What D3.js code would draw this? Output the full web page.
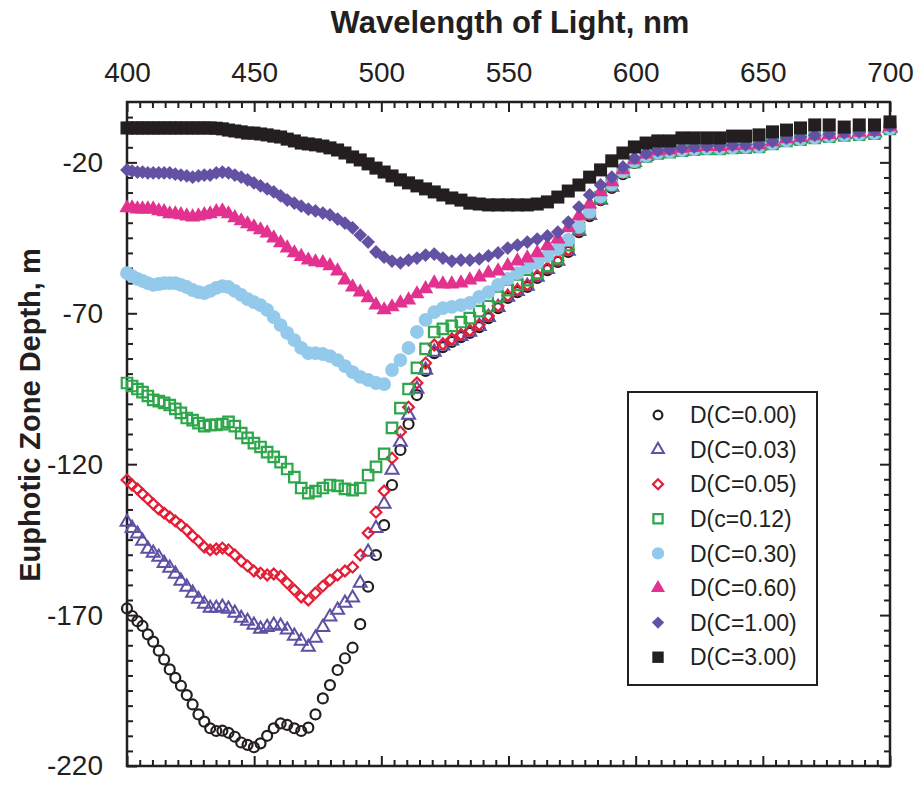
<!DOCTYPE html>
<html><head><meta charset="utf-8">
<script src="https://cdn.jsdelivr.net/npm/d3@7"></script>
<style>
body{margin:0;background:#fff}
svg{display:block}
text{font-family:"Liberation Sans",Arial,Helvetica,sans-serif;fill:#231f20}
</style>
</head><body>
<svg id="chart" width="920" height="785"></svg>
<script>
// ---------------- DATA ----------------
const wavelength = [
400.0,402.0,404.1,406.1,408.2,410.3,412.5,414.6,416.8,419.0,
421.2,423.5,425.8,428.1,430.4,432.7,435.1,437.5,439.9,442.4,
444.9,447.4,449.9,452.5,455.1,457.7,460.4,463.0,465.8,468.5,
471.3,474.1,477.0,479.8,482.8,485.7,488.7,491.7,494.8,497.9,
501.1,504.2,507.5,510.7,514.0,517.4,520.8,524.2,527.7,531.3,
534.8,538.5,542.1,545.9,549.7,553.5,557.4,561.3,565.3,569.4,
573.5,577.7,581.9,586.2,590.6,595.0,599.5,604.1,608.7,613.4,
618.2,623.0,628.0,633.0,638.1,643.2,648.5,653.8,659.3,664.8,
670.4,676.1,682.0,687.9,693.9,700.0];

const depthC000 = [
-167.8,-170.3,-172.0,-173.6,-176.4,-178.8,-181.8,-184.7,-188.0,-190.8,
-193.4,-196.5,-199.6,-202.9,-205.3,-207.5,-208.4,-208.3,-209.0,-210.3,
-212.2,-213.0,-213.8,-212.5,-210.0,-207.5,-205.9,-206.4,-207.5,-208.4,
-207.3,-202.9,-197.6,-193.2,-188.2,-184.3,-180.8,-173.0,-160.6,-150.1,
-140.2,-126.9,-115.3,-106.7,-97.1,-89.1,-83.2,-81.2,-79.5,-77.9,
-76.5,-74.6,-71.6,-68.3,-64.9,-63.0,-61.3,-58.3,-55.7,-53.0,
-49.7,-43.1,-37.8,-32.5,-28.5,-23.9,-20.2,-18.2,-16.9,-16.2,
-15.9,-15.6,-15.4,-15.4,-15.1,-15.0,-14.8,-13.8,-12.8,-12.4,
-11.8,-11.4,-11.0,-10.7,-10.4,-8.8];

const depthC003 = [
-139.2,-141.2,-143.1,-145.5,-148.1,-149.4,-150.8,-152.8,-154.4,-156.4,
-158.7,-160.7,-162.7,-164.7,-166.3,-167.7,-167.7,-167.3,-168.0,-169.3,
-171.0,-172.0,-173.3,-174.6,-174.0,-173.3,-173.6,-174.9,-176.9,-178.6,
-180.6,-177.6,-174.0,-170.6,-168.3,-166.0,-164.3,-159.4,-149.1,-141.2,
-133.2,-121.9,-112.7,-103.7,-95.1,-88.8,-82.8,-80.8,-79.1,-77.6,
-76.2,-74.3,-71.3,-68.0,-64.6,-62.7,-61.0,-58.0,-55.4,-52.7,
-49.4,-42.8,-37.5,-32.5,-28.2,-23.6,-20.0,-18.0,-16.8,-16.4,
-15.8,-15.5,-15.2,-15.2,-14.9,-14.8,-14.6,-13.6,-12.6,-12.2,
-11.6,-11.2,-10.8,-10.5,-10.2,-8.6];

const depthC005 = [
-125.2,-126.9,-128.2,-129.9,-131.5,-133.2,-134.9,-136.2,-137.5,-138.8,
-140.2,-141.8,-143.8,-145.5,-147.5,-148.4,-148.1,-147.8,-148.4,-150.1,
-152.1,-153.7,-155.4,-156.1,-156.7,-156.4,-157.1,-159.4,-161.7,-164.0,
-165.0,-162.7,-160.4,-158.4,-156.7,-155.4,-154.1,-150.1,-142.8,-135.9,
-128.9,-118.0,-109.3,-101.1,-93.1,-86.5,-80.5,-80.2,-78.6,-77.1,
-75.7,-73.8,-70.8,-67.6,-64.2,-62.3,-60.6,-57.6,-55.0,-52.4,
-49.0,-42.5,-37.2,-32.2,-28.0,-23.4,-19.9,-17.9,-16.7,-16.3,
-15.8,-15.4,-15.2,-15.2,-14.8,-14.7,-14.5,-13.5,-12.5,-12.1,
-11.5,-11.1,-10.7,-10.4,-10.1,-8.5];

const depthC012 = [
-93.1,-94.1,-95.1,-96.1,-97.4,-98.7,-99.1,-99.7,-100.4,-101.7,
-103.0,-104.7,-105.4,-106.4,-107.4,-107.0,-107.0,-106.7,-106.0,-107.4,
-109.7,-111.3,-113.0,-114.3,-116.0,-117.6,-119.3,-121.6,-124.3,-127.9,
-129.6,-128.9,-127.9,-126.9,-127.2,-128.2,-128.6,-127.9,-123.6,-120.9,
-116.6,-108.0,-101.4,-95.1,-88.1,-81.8,-76.2,-75.2,-74.2,-72.9,
-71.6,-69.3,-67.6,-64.6,-62.3,-60.6,-59.0,-56.7,-54.3,-51.7,
-47.4,-41.7,-36.4,-31.5,-27.5,-23.2,-19.9,-18.0,-17.0,-16.6,
-16.1,-15.8,-15.5,-15.5,-15.2,-15.1,-14.9,-13.9,-12.9,-12.5,
-11.9,-11.5,-11.1,-10.8,-10.5,-8.9];

const depthC030 = [
-56.7,-57.7,-58.6,-59.3,-60.0,-60.6,-60.3,-60.0,-60.0,-60.0,
-60.6,-61.3,-62.3,-63.0,-63.3,-62.6,-61.6,-61.0,-61.3,-62.6,
-63.9,-65.3,-66.3,-67.3,-68.9,-71.3,-73.9,-76.5,-78.9,-81.5,
-83.2,-83.2,-83.5,-84.2,-85.5,-87.5,-89.5,-91.1,-92.1,-93.1,
-93.5,-88.8,-85.5,-81.5,-76.2,-72.2,-69.6,-68.3,-67.9,-67.3,
-66.6,-64.6,-63.0,-60.6,-58.6,-56.7,-54.7,-53.3,-51.0,-48.7,
-45.7,-41.4,-36.4,-31.3,-27.3,-23.0,-19.6,-17.8,-16.8,-16.4,
-15.9,-15.6,-15.3,-15.3,-15.0,-14.9,-14.7,-13.7,-12.7,-12.3,
-11.7,-11.3,-10.9,-10.6,-10.3,-8.7];

const depthC060 = [
-35.1,-35.1,-35.5,-35.5,-35.5,-35.5,-36.1,-36.4,-37.1,-37.1,
-37.4,-37.8,-38.1,-37.8,-37.4,-37.1,-36.4,-36.1,-37.1,-38.4,
-39.4,-40.4,-41.4,-42.4,-43.4,-45.1,-46.7,-48.4,-50.0,-51.2,
-52.4,-53.0,-53.3,-54.3,-56.0,-59.0,-61.3,-63.0,-64.9,-67.3,
-68.9,-67.9,-66.6,-65.6,-63.6,-61.9,-60.0,-60.3,-60.3,-60.0,
-59.0,-58.0,-56.7,-56.0,-54.3,-52.7,-51.7,-50.0,-47.7,-45.4,
-41.7,-37.8,-33.8,-29.8,-26.5,-22.5,-19.2,-17.3,-16.3,-15.9,
-15.4,-15.1,-14.8,-14.8,-14.5,-14.4,-14.2,-13.2,-12.2,-11.8,
-11.2,-10.8,-10.4,-10.1,-9.8,-8.2];

const depthC100 = [
-22.5,-22.9,-23.2,-23.2,-23.5,-23.5,-23.5,-23.5,-23.5,-23.9,
-24.2,-24.5,-24.9,-24.5,-24.2,-24.2,-23.5,-23.2,-23.5,-24.2,
-24.9,-25.8,-26.8,-27.8,-28.8,-29.8,-31.1,-32.5,-33.5,-34.5,
-35.5,-36.1,-36.8,-37.4,-38.8,-40.1,-41.7,-44.1,-46.4,-49.7,
-51.4,-52.7,-53.3,-52.4,-51.7,-50.7,-50.4,-51.7,-52.7,-52.4,
-52.4,-52.0,-51.0,-50.0,-48.4,-47.4,-46.4,-45.4,-44.4,-43.1,
-39.8,-34.8,-30.8,-27.5,-24.9,-21.5,-18.6,-17.0,-16.1,-15.7,
-15.2,-14.9,-14.6,-14.6,-14.3,-14.2,-14.0,-13.0,-12.0,-11.6,
-11.0,-10.6,-10.2,-9.9,-9.6,-8.0];

const depthC300 = [
-8.6,-8.6,-8.6,-8.6,-8.6,-8.6,-8.6,-8.6,-8.6,-8.6,
-8.6,-8.6,-8.6,-8.6,-8.6,-8.6,-8.7,-8.9,-9.3,-9.6,
-9.9,-10.3,-10.3,-10.6,-10.9,-11.3,-11.6,-12.3,-12.9,-13.6,
-13.9,-14.2,-14.6,-15.2,-15.9,-16.9,-18.2,-19.2,-20.5,-21.9,
-23.2,-24.5,-25.8,-26.8,-27.8,-28.8,-29.8,-30.8,-31.8,-32.5,
-33.5,-33.8,-34.1,-34.1,-34.1,-34.1,-34.1,-33.8,-33.1,-31.5,
-29.5,-27.5,-24.9,-22.5,-19.5,-16.9,-14.9,-13.6,-12.9,-12.9,
-11.9,-11.9,-11.9,-11.9,-11.3,-11.3,-10.9,-9.9,-9.3,-8.6,
-7.6,-7.6,-8.3,-7.6,-7.6,-6.6];

const seriesLabels = ["D(C=0.00)","D(C=0.03)","D(C=0.05)","D(c=0.12)","D(C=0.30)","D(C=0.60)","D(C=1.00)","D(C=3.00)"];
const seriesValues = [depthC000, depthC003, depthC005, depthC012, depthC030, depthC060, depthC100, depthC300];
const xTickValues = [400,450,500,550,600,650,700];
const yTickValues = [-20,-70,-120,-170,-220];
const xTitle = "Wavelength of Light, nm";
const yTitle = "Euphotic Zone Depth, m";

// ---------------- STYLES ----------------
const styles = [
  {shape:"circle",   fill:"none",    stroke:"#231f20", size:78,  sw:2.2},
  {shape:"triangle", fill:"none",    stroke:"#5f50a3", size:72,  sw:2},
  {shape:"diamond",  fill:"none",    stroke:"#e41e35", size:58,  sw:2.2},
  {shape:"square",   fill:"none",    stroke:"#2ea64b", size:110, sw:2.2},
  {shape:"circle",   fill:"#93c9ea", stroke:"none",    size:150, sw:0},
  {shape:"triangle", fill:"#e2318f", stroke:"none",    size:100, sw:0},
  {shape:"diamond",  fill:"#6352a4", stroke:"none",    size:95,  sw:0},
  {shape:"square",   fill:"#231f20", stroke:"none",    size:170, sw:0}
];
const legendSizes = [60, 60, 50, 85, 120, 85, 75, 130];
const symType = {circle:d3.symbolCircle, triangle:d3.symbolTriangle, diamond:d3.symbolSquare, square:d3.symbolSquare};

// ---------------- CHART ----------------
const svg = d3.select("#chart");
const L = 127, R = 890, T = 102, B = 766;
const x = d3.scaleLinear().domain([400,700]).range([L,R]);
const y = d3.scaleLinear().domain([0,-220]).range([T,B]);

function styleAxis(g){
  g.select(".domain").remove();
  g.selectAll(".tick line").attr("stroke","#231f20").attr("stroke-width",2);
}
const minorX = d3.range(400,701,5).filter(v=>!xTickValues.includes(v));
const minorY = d3.range(0,-221,-5).filter(v=>!yTickValues.includes(v) && v!==0);

// top axis (labels)
svg.append("g").attr("transform",`translate(0,${T})`)
  .call(d3.axisTop(x).tickValues(xTickValues).tickSize(-10).tickPadding(20))
  .call(styleAxis)
  .call(g=>g.selectAll("text").attr("font-size",28).attr("fill","#231f20"));
svg.append("g").attr("transform",`translate(0,${T})`)
  .call(d3.axisTop(x).tickValues(minorX).tickSize(-6).tickFormat(""))
  .call(styleAxis);
// bottom axis
svg.append("g").attr("transform",`translate(0,${B})`)
  .call(d3.axisBottom(x).tickValues(xTickValues).tickSize(-10).tickFormat(""))
  .call(styleAxis);
svg.append("g").attr("transform",`translate(0,${B})`)
  .call(d3.axisBottom(x).tickValues(minorX).tickSize(-6).tickFormat(""))
  .call(styleAxis);
// left axis (labels)
svg.append("g").attr("transform",`translate(${L},0)`)
  .call(d3.axisLeft(y).tickValues(yTickValues).tickSize(-10).tickPadding(24).tickFormat(d=>String(d)))
  .call(styleAxis)
  .call(g=>g.selectAll("text").attr("font-size",28).attr("fill","#231f20"));
svg.append("g").attr("transform",`translate(${L},0)`)
  .call(d3.axisLeft(y).tickValues(minorY).tickSize(-6).tickFormat(""))
  .call(styleAxis);
// right axis
svg.append("g").attr("transform",`translate(${R},0)`)
  .call(d3.axisRight(y).tickValues(yTickValues).tickSize(-10).tickFormat(""))
  .call(styleAxis);
svg.append("g").attr("transform",`translate(${R},0)`)
  .call(d3.axisRight(y).tickValues(minorY).tickSize(-6).tickFormat(""))
  .call(styleAxis);

// frame
svg.append("rect").attr("x",L).attr("y",T).attr("width",R-L).attr("height",B-T)
  .attr("fill","none").attr("stroke","#231f20").attr("stroke-width",2.5);

// titles
svg.append("text").attr("x",510).attr("y",33).attr("text-anchor","middle")
  .attr("font-size",31).attr("font-weight","bold").text(xTitle);
svg.append("text").attr("transform","translate(40,415) rotate(-90)").attr("text-anchor","middle")
  .attr("font-size",29).attr("font-weight","bold").text(yTitle);

// markers
const plot = svg.append("g");
seriesValues.forEach((vals,i)=>{
  const st = styles[i];
  const rot = st.shape==="diamond" ? " rotate(45)" : "";
  plot.append("g").selectAll("path").data(vals.map((v,j)=>[wavelength[j],v]))
    .join("path")
    .attr("transform",d=>`translate(${x(d[0])},${y(d[1])})${rot}`)
    .attr("d", d3.symbol().type(symType[st.shape]).size(st.size)())
    .attr("fill", st.fill).attr("stroke", st.stroke).attr("stroke-width", st.sw);
});

// legend
const lg = svg.append("g");
lg.append("rect").attr("x",628).attr("y",392).attr("width",189).attr("height",293)
  .attr("fill","#fff").attr("stroke","#231f20").attr("stroke-width",2);
seriesLabels.forEach((lab,i)=>{
  const st = styles[i];
  const yy = 415 + i*34.6;
  const rot = st.shape==="diamond" ? " rotate(45)" : "";
  lg.append("path").attr("transform",`translate(658,${yy})${rot}`)
    .attr("d", d3.symbol().type(symType[st.shape]).size(legendSizes[i])())
    .attr("fill", st.fill).attr("stroke", st.stroke).attr("stroke-width", st.sw);
  lg.append("text").attr("x",690).attr("y",yy).attr("dy","0.36em")
    .attr("font-size",23).text(lab);
});
</script>
</body></html>
